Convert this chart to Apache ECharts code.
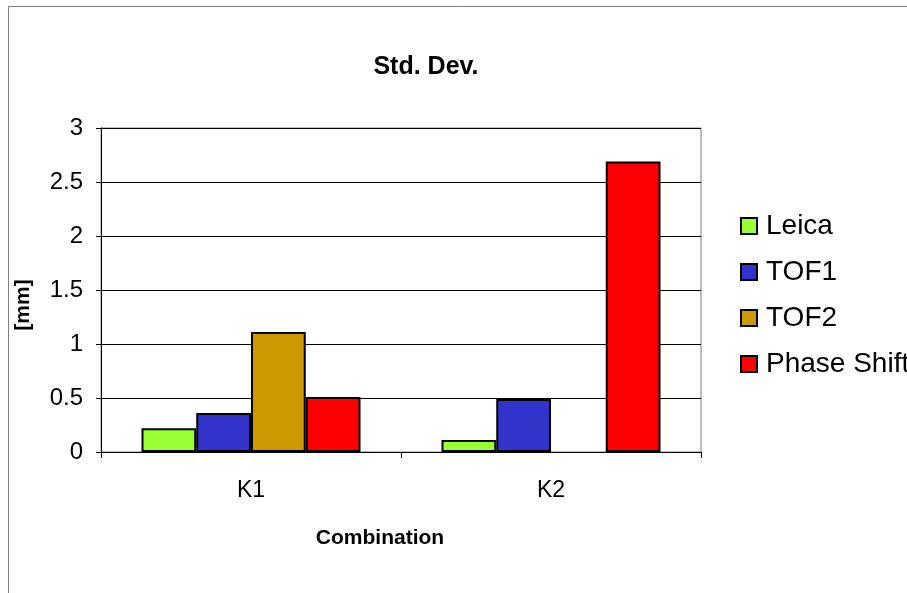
<!DOCTYPE html>
<html>
<head>
<meta charset="utf-8">
<script src="https://cdn.jsdelivr.net/npm/echarts@6/dist/echarts.min.js"></script>
<style>
  html, body { margin: 0; padding: 0; background: #fff; }
  #chart { width: 907px; height: 593px; }
</style>
</head>
<body>
<div id="chart"></div>
<script>
// Standard deviation per sensor, by combination
const categories = ['K1', 'K2'];
const seriesNames = ['Leica', 'TOF1', 'TOF2', 'Phase Shift'];
const leica = [0.22, 0.11];
const tof1 = [0.36, 0.49];
const tof2 = [1.11, null];
const phaseShift = [0.51, 2.69];
const yTicks = ['0', '0.5', '1', '1.5', '2', '2.5', '3'];

const colors = ['#99FF33', '#3333CC', '#CC9900', '#FF0000'];
const values = [leica, tof1, tof2, phaseShift];
const FONT = '"Liberation Sans", Arial, sans-serif';

const chart = echarts.init(document.getElementById('chart'), null, { renderer: 'canvas' });

chart.setOption({
  animation: false,
  backgroundColor: '#ffffff',
  textStyle: { fontFamily: FONT, color: '#000' },
  graphic: [
    {
      // outer chart frame
      type: 'rect',
      shape: { x: 8.5, y: 6.5, width: 1000, height: 1000 },
      style: { fill: 'none', stroke: '#808080', lineWidth: 1 },
      z: -10
    },
    {
      // value axis title
      type: 'text',
      x: 23, y: 305,
      rotation: Math.PI / 2,
      style: {
        text: '[mm]', font: 'bold 21px ' + FONT, fill: '#000',
        align: 'center', verticalAlign: 'middle'
      }
    },
    {
      // category axis title
      type: 'text',
      x: 380, y: 538,
      style: {
        text: 'Combination', font: 'bold 21px ' + FONT, fill: '#000',
        align: 'center', verticalAlign: 'middle'
      }
    }
  ],
  title: {
    text: 'Std. Dev.',
    left: 421, top: 50, textAlign: 'center',
    textStyle: { fontFamily: FONT, fontSize: 25, fontWeight: 'bold', color: '#000' }
  },
  legend: {
    orient: 'vertical',
    left: 735, top: 207,
    itemWidth: 16, itemHeight: 16, itemGap: 18,
    icon: 'rect',
    data: seriesNames,
    textStyle: { fontFamily: FONT, fontSize: 28, color: '#000', padding: [0, 0, 0, 4] }
  },
  grid: {
    left: 101, right: 206, top: 128, bottom: 141,
    show: true, borderColor: '#808080', borderWidth: 1,
    containLabel: false
  },
  xAxis: {
    type: 'category',
    data: categories,
    boundaryGap: true,
    axisLine: { lineStyle: { color: '#000', width: 1 } },
    axisTick: { show: true, length: 6, lineStyle: { color: '#000' } },
    axisLabel: { fontFamily: FONT, fontSize: 23, color: '#000', margin: 27 }
  },
  yAxis: {
    type: 'value',
    min: 0, max: 3, interval: 0.5,
    axisLine: { show: true, lineStyle: { color: '#000', width: 1 } },
    axisTick: { show: true, length: 5, lineStyle: { color: '#000' } },
    axisLabel: {
      fontFamily: FONT, fontSize: 24, color: '#000', margin: 18,
      formatter: (v) => yTicks[Math.round(v / 0.5)]
    },
    splitLine: { show: true, lineStyle: { color: '#000', width: 1 } }
  },
  series: seriesNames.map((name, i) => ({
    name,
    type: 'bar',
    data: values[i],
    barGap: '0%',
    barCategoryGap: '27%',
    itemStyle: { color: colors[i], borderColor: '#000', borderWidth: 2 }
  }))
});
</script>
</body>
</html>
